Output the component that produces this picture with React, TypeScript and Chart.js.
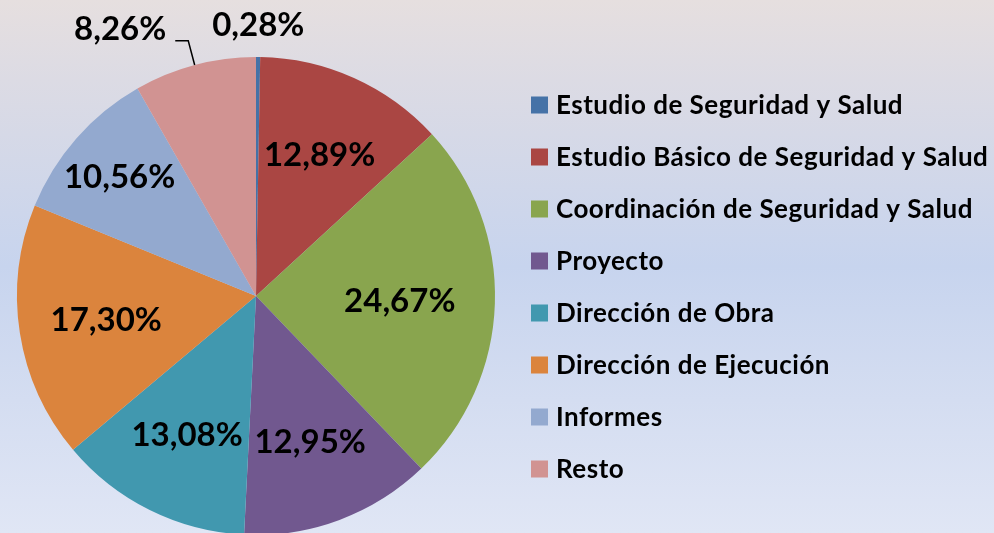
import React, { useEffect, useRef } from "react";
import { Chart, registerables } from "chart.js";

Chart.register(...registerables);

const categories = [
  "Estudio de Seguridad y Salud",
  "Estudio Básico de Seguridad y Salud",
  "Coordinación de Seguridad y Salud",
  "Proyecto",
  "Dirección de Obra",
  "Dirección de Ejecución",
  "Informes",
  "Resto",
];
const shares = [0.28, 12.89, 24.67, 12.95, 13.08, 17.3, 10.56, 8.26];
const sliceColors = [
  "#4572a7",
  "#aa4643",
  "#89a54e",
  "#71588f",
  "#4198af",
  "#db843d",
  "#93a9cf",
  "#d19392",
];

const W = 994;
const H = 560;
const FONT = "Lato, 'Open Sans', sans-serif";
const LABEL_FONT_SIZE = 33;
const LEGEND_FONT_SIZE = 26;

const fmt = (v: number) => v.toFixed(2).replace(".", ",") + "%";

const TWO_PI = Math.PI * 2;
const norm = (a: number) => ((a % TWO_PI) + TWO_PI) % TWO_PI;

const pieLabels = {
  id: "pieLabels",
  afterDatasetsDraw(chart: any) {
    const ctx = chart.ctx as CanvasRenderingContext2D;
    const meta = chart.getDatasetMeta(0);
    const values = chart.data.datasets[0].data as number[];
    ctx.save();
    ctx.font = `bold ${LABEL_FONT_SIZE}px ${FONT}`;
    ctx.fillStyle = "#000";
    ctx.strokeStyle = "#000";
    ctx.lineWidth = 1.5;
    meta.data.forEach((arc: any, i: number) => {
      const { x, y, startAngle, endAngle, outerRadius } = arc.getProps(
        ["x", "y", "startAngle", "endAngle", "outerRadius"],
        true
      );
      const mid = (startAngle + endAngle) / 2;
      const cos = Math.cos(mid);
      const sin = Math.sin(mid);
      const v = values[i];
      const text = fmt(v);
      ctx.textBaseline = "middle";
      if (v >= 9) {
        // start at the sector's centroid, push outward until the text box fits in the wedge
        const half = (endAngle - startAngle) / 2;
        const tw = ctx.measureText(text).width;
        const th = LABEL_FONT_SIZE * 0.72;
        const span = endAngle - startAngle;
        const margin = 0.03;
        let r = (2 * outerRadius * Math.sin(half)) / (3 * half);
        const fits = (rr: number) => {
          const cx = x + cos * rr;
          const cy = y + sin * rr;
          for (const [dx, dy] of [
            [-1, -1],
            [1, -1],
            [1, 1],
            [-1, 1],
          ]) {
            const px = cx + (dx * tw) / 2;
            const py = cy + (dy * th) / 2;
            const rel = norm(Math.atan2(py - y, px - x) - startAngle);
            if (rel < margin || rel > span - margin) return false;
            if (Math.hypot(px - x, py - y) > outerRadius - 4) return false;
          }
          return true;
        };
        let rr = r;
        while (rr < outerRadius * 0.8 && !fits(rr)) rr += 1;
        if (fits(rr)) r = rr;
        ctx.textAlign = "center";
        ctx.fillText(text, x + cos * r, y + sin * r + 1);
      } else {
        const ex = x + cos * outerRadius;
        const ey = y + sin * outerRadius;
        const ax = x + cos * (outerRadius + 25);
        const ay = y + sin * (outerRadius + 25);
        if (Math.abs(ax - x) > 20) {
          const dir = ax < x ? -1 : 1;
          ctx.beginPath();
          ctx.moveTo(ex, ey);
          ctx.lineTo(ax, ay);
          ctx.lineTo(ax + dir * 13, ay);
          ctx.stroke();
          ctx.textAlign = dir < 0 ? "right" : "left";
          ctx.fillText(text, ax + dir * 22, ay - 11);
        } else {
          ctx.textAlign = "center";
          ctx.fillText(text, ax, ay - 7);
        }
      }
    });
    ctx.restore();
  },
};

const sideLegend = {
  id: "sideLegend",
  afterDraw(chart: any) {
    const ctx = chart.ctx as CanvasRenderingContext2D;
    const labels = chart.data.labels as string[];
    const colors = chart.data.datasets[0].backgroundColor as string[];
    ctx.save();
    ctx.font = `bold ${LEGEND_FONT_SIZE}px ${FONT}`;
    (ctx as any).letterSpacing = "0.5px";
    ctx.textBaseline = "middle";
    ctx.textAlign = "left";
    labels.forEach((lab, i) => {
      const cy = 105 + 52 * i;
      ctx.fillStyle = colors[i];
      ctx.fillRect(531, cy - 8.5, 17, 17);
      ctx.fillStyle = "#000";
      ctx.fillText(lab, 556, cy + 1);
    });
    ctx.restore();
  },
};

export default function App() {
  const ref = useRef<HTMLCanvasElement | null>(null);
  useEffect(() => {
    if (!ref.current) return;
    const chart = new Chart(ref.current, {
      type: "pie",
      data: {
        labels: categories,
        datasets: [
          {
            data: shares,
            backgroundColor: sliceColors,
            borderWidth: 0,
          },
        ],
      },
      options: {
        responsive: false,
        animation: false,
        layout: { padding: { left: 17, top: 57, right: 499, bottom: 25 } },
        plugins: {
          legend: { display: false },
          tooltip: { enabled: false },
        },
      },
      plugins: [pieLabels, sideLegend],
    });
    return () => chart.destroy();
  }, []);
  return (
    <div
      style={{
        position: "fixed",
        left: 0,
        top: 0,
        width: W,
        height: 533,
        overflow: "hidden",
        background:
          "linear-gradient(to bottom, #e6dfdf 0%, #dcdbe4 15%, #c7d4ee 50%, #d4ddf1 75%, #e0e6f5 100%)",
      }}
    >
      <canvas ref={ref} width={W} height={H} style={{ display: "block", width: W, height: H }} />
    </div>
  );
}
